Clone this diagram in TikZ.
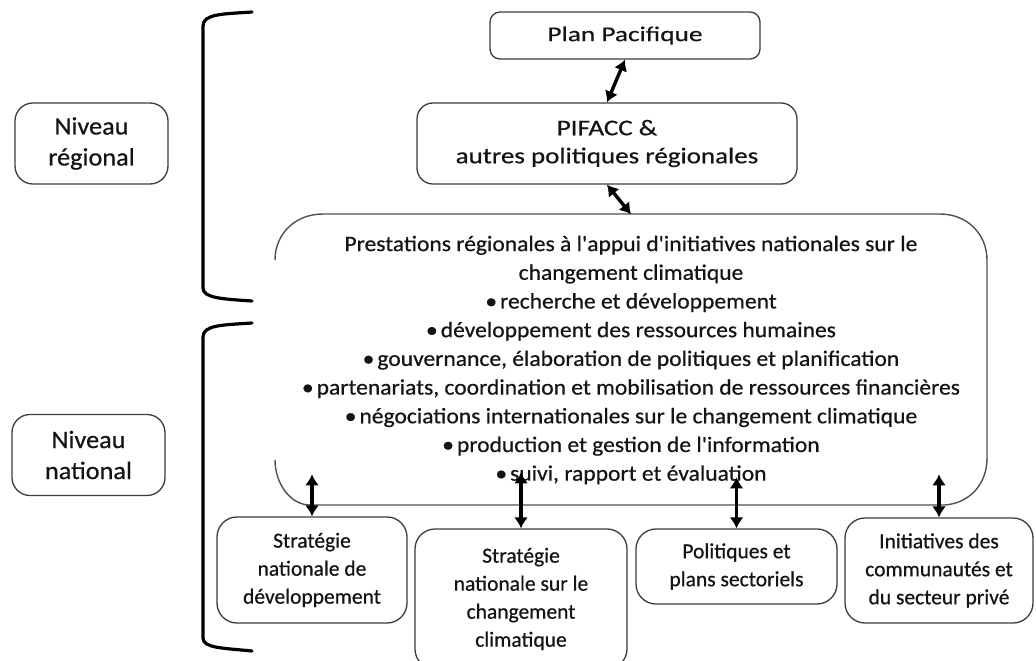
\documentclass[tikz,border=0pt]{standalone}
\usepackage{fontspec}
\setmainfont[FakeBold=0.6]{Carlito}
\newfontfamily\lvlfont[FakeStretch=1.05,FakeBold=0.6]{Carlito}
\newfontfamily\widefont[FakeStretch=1.3,FakeBold=0.6]{Carlito}
\newfontfamily\pifaccfont[FakeStretch=1.2,FakeBold=0.6]{Carlito}
\newfontfamily\servfont[FakeStretch=1.07,FakeBold=0.6]{Carlito}
\usetikzlibrary{arrows.meta,calc}
\definecolor{boxgray}{HTML}{3C3C3C}
\definecolor{linegray}{HTML}{505050}
\definecolor{ink}{HTML}{141414}
\tikzset{
  box/.style={draw=boxgray, line width=1.3pt, rounded corners=16pt, align=center,
    inner sep=0pt, text=ink},
  lvlbox/.style={box, rounded corners=18pt, minimum width=153pt, minimum height=81pt,
    font={\lvlfont\fontsize{25}{31}\selectfont}},
  topbox/.style={box, font={\pifaccfont\fontsize{22.5}{28}\selectfont}},
  natbox/.style={box, rounded corners=20pt, font={\fontsize{21.5}{28}\selectfont}},
  arr/.style={line width=3.4pt, black,
    {Latex[length=11pt,width=14pt]}-{Latex[length=11pt,width=14pt]}},
  brace/.style={line width=3.2pt, black, line cap=round},
  outline/.style={draw=linegray, line width=1.4pt}
}
\begin{document}
\begin{tikzpicture}[x=1pt,y=-1pt]
\clip (0,0) rectangle (1036,661);

% level labels
\node[lvlbox] (lvlR) at (91.5,143.5) {Niveau\\régional};
\node[lvlbox] (lvlN) at (88.5,455) {Niveau\\national};

% brackets
\draw[brace] (252,12) .. controls (222,14) and (203,14) .. (203,26)
  -- (203,288) .. controls (203,298) and (222,299) .. (252,301);
\draw[brace] (252,323) .. controls (222,325) and (203,325) .. (203,337)
  -- (203,638) .. controls (203,648) and (222,648) .. (252,651);

% regional boxes
\node[topbox, rounded corners=10pt, minimum width=270pt, minimum height=47pt,
  font={\widefont\fontsize{21}{26}\selectfont}] (plan) at (625,35.5) {Plan Pacifique};
\node[topbox, minimum width=380pt, minimum height=81pt] (pifacc) at (607,143.5)
  {PIFACC \&\\autres politiques régionales};

% regional services box (outline drawn separately)
\node[inner sep=0pt, minimum width=712pt, minimum height=291pt, align=center, text=ink,
  font={\servfont\fontsize{22}{28.7}\selectfont}] (serv) at (631,360)
  {Prestations régionales à l'appui d'initiatives nationales sur le\\
   changement climatique\\
   •\hspace{3pt}recherche et développement\\
   •\hspace{3pt}développement des ressources humaines\\
   •\hspace{3pt}gouvernance, élaboration de politiques et planification\\
   •\hspace{3pt}partenariats, coordination et mobilisation de ressources financières\\
   •\hspace{3pt}négociations internationales sur le changement climatique\\
   •\hspace{3pt}production et gestion de l'information\\
   •\hspace{3pt}suivi, rapport et évaluation};
\coordinate (snw) at (275,214);
\coordinate (sne) at (987,214);
\coordinate (sse) at (987,505);
\coordinate (ssw) at (275,505);
% upper-left corner, top edge, right side, bottom edge
\draw[outline] ($(snw)+(0,46)$)
  .. controls ($(snw)+(0,20)$) and ($(snw)+(20,0)$) .. ($(snw)+(48,0)$)
  -- ($(sne)+(-47,0)$)
  .. controls ($(sne)+(-20,0)$) and ($(sne)+(0,20)$) .. ($(sne)+(0,46)$)
  -- ($(sse)+(0,-47)$)
  .. controls ($(sse)+(0,-20)$) and ($(sse)+(-18,-2)$) .. ($(sse)+(-42,0)$)
  -- ($(ssw)+(35,0)$);
% lower-left corner
\draw[outline] ($(ssw)+(35,0)$)
  .. controls ($(ssw)+(15,0)$) and ($(ssw)+(0,-22)$) .. ($(ssw)+(0,-45)$);

% national boxes
\node[natbox, minimum width=190pt, minimum height=106pt] (b1) at (312,570)
  {Stratégie\\nationale de\\développement};
\node[natbox, minimum width=212pt, minimum height=140pt] (b2) at (521,599)
  {Stratégie\\nationale sur le\\changement\\climatique};
\node[natbox, minimum width=201pt, minimum height=75pt] (b3) at (736.5,566.5)
  {Politiques et\\plans sectoriels};
\node[natbox, minimum width=188pt, minimum height=105pt] (b4) at (939,570.5)
  {Initiatives des\\communautés et\\du secteur privé};

% connectors
\draw[arr] (plan.south) -- (pifacc.north);
\draw[arr] (pifacc.south) -- (serv.north);
\foreach \b/\len in {b1/42, b2/56, b3/51, b4/43}{
  \coordinate (\b-top) at ($(\b.north)+(0,-\len)$);
  \draw[arr] (\b-top) -- (\b.north);
}
\end{tikzpicture}
\end{document}
